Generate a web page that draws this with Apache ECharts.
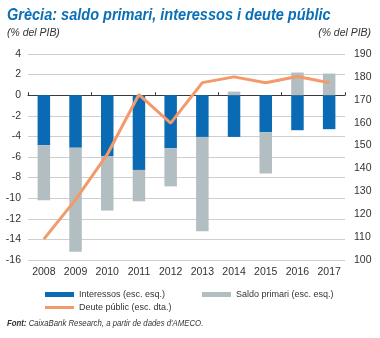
<!DOCTYPE html>
<html>
<head>
<meta charset="utf-8">
<script src="https://cdn.jsdelivr.net/npm/echarts@6/dist/echarts.min.js"></script>
<style>
  html, body { margin: 0; padding: 0; background: #fff; }
  #chart { width: 380px; height: 338px; }
</style>
</head>
<body>
<div id="chart"></div>
<script>
// Years on the category axis
const years = ['2008', '2009', '2010', '2011', '2012', '2013', '2014', '2015', '2016', '2017'];
// Interest payments, % of GDP (drawn downwards from zero)
const interessos = [-4.85, -5.1, -5.9, -7.25, -5.15, -4.05, -4.05, -3.6, -3.4, -3.3];
// Primary balance, % of GDP (stacked on the interest bars)
const saldoPrimari = [-5.35, -10.1, -5.3, -3.05, -3.7, -9.15, 0.35, -4.0, 2.2, 2.1];
// Public debt, % of GDP (right-hand scale)
const deutePublic = [109.1, 126.4, 146.1, 172.3, 159.8, 177.5, 180.0, 177.4, 180.2, 177.4];

const FONT = '"Liberation Sans", Arial, sans-serif';
const TXT = '#333333';

const chart = echarts.init(document.getElementById('chart'), null, { renderer: 'canvas' });

chart.setOption({
  animation: false,
  backgroundColor: '#ffffff',
  textStyle: { fontFamily: FONT, color: TXT },
  graphic: [
    {
      // headline, slightly condensed horizontally
      type: 'text', x: 7, y: 15, scaleX: 0.88,
      style: {
        text: 'Grècia: saldo primari, interessos i deute públic',
        font: 'italic bold 16.5px ' + FONT, fill: '#0a6fb7',
        textAlign: 'left', textVerticalAlign: 'middle'
      }
    },
    {
      type: 'text', x: 7, y: 33, scaleX: 0.95,
      style: { text: '(% del PIB)', font: 'italic 11px ' + FONT, fill: TXT, textAlign: 'left', textVerticalAlign: 'middle' }
    },
    {
      type: 'text', x: 371, y: 33, scaleX: 0.95,
      style: { text: '(% del PIB)', font: 'italic 11px ' + FONT, fill: TXT, textAlign: 'right', textVerticalAlign: 'middle' }
    },
    {
      type: 'text', x: 7, y: 323, scaleX: 0.82,
      style: {
        text: "{b|Font:} CaixaBank Research, a partir de dades d'AMECO.",
        font: 'italic 9.5px ' + FONT, fill: TXT, textAlign: 'left', textVerticalAlign: 'middle',
        rich: { b: { font: 'italic bold 9.5px ' + FONT, fill: TXT } }
      }
    }
  ],
  legend: [
    {
      data: ['Interessos (esc. esq.)'],
      left: 40, top: 285, itemWidth: 29, itemHeight: 5, itemGap: 6, icon: 'rect',
      textStyle: { fontFamily: FONT, fontSize: 9, color: TXT }
    },
    {
      data: ['Saldo primari (esc. esq.)'],
      left: 197, top: 285, itemWidth: 29, itemHeight: 5, itemGap: 6, icon: 'rect',
      textStyle: { fontFamily: FONT, fontSize: 9, color: TXT }
    },
    {
      data: [{ name: 'Deute públic (esc. dta.)', icon: 'rect' }],
      left: 40, top: 298, itemWidth: 29, itemHeight: 3, itemGap: 6,
      textStyle: { fontFamily: FONT, fontSize: 9, color: TXT }
    }
  ],
  grid: { left: 28, right: 35, top: 54, bottom: 78, containLabel: false },
  xAxis: [
    {
      type: 'category',
      data: years,
      position: 'bottom',
      axisLine: { show: false, onZero: false },
      axisTick: { show: false },
      axisLabel: { color: TXT, fontSize: 10.5, margin: 7, fontFamily: FONT }
    },
    {
      // zero line with upward ticks between the years
      type: 'category',
      data: years,
      position: 'bottom',
      axisLine: { show: true, onZero: true, onZeroAxisIndex: 0, lineStyle: { color: '#3a3a3a', width: 1 } },
      axisTick: { show: true, inside: true, length: 3, lineStyle: { color: '#3a3a3a' } },
      axisLabel: { show: false },
      splitLine: { show: false }
    }
  ],
  yAxis: [
    {
      type: 'value',
      min: -16, max: 4, interval: 2,
      axisLine: { show: false },
      axisTick: { show: false },
      axisLabel: { color: TXT, fontSize: 10.5, margin: 7, fontFamily: FONT },
      splitLine: { show: true, lineStyle: { color: '#cfcfcf', width: 1 } }
    },
    {
      type: 'value',
      position: 'right',
      min: 100, max: 190, interval: 10,
      axisLine: { show: false },
      axisTick: { show: false },
      axisLabel: { color: TXT, fontSize: 10.5, margin: 9, fontFamily: FONT },
      splitLine: { show: false }
    }
  ],
  series: [
    {
      name: 'Interessos (esc. esq.)',
      type: 'bar',
      stack: 'saldo',
      xAxisIndex: 0, yAxisIndex: 0,
      data: interessos,
      barWidth: 12.5,
      itemStyle: { color: '#0a6bb4' },
      z: 2
    },
    {
      name: 'Saldo primari (esc. esq.)',
      type: 'bar',
      stack: 'saldo',
      xAxisIndex: 0, yAxisIndex: 0,
      data: saldoPrimari,
      barWidth: 12.5,
      itemStyle: { color: '#b3bec3' },
      z: 2
    },
    {
      name: 'Deute públic (esc. dta.)',
      type: 'line',
      xAxisIndex: 0, yAxisIndex: 1,
      data: deutePublic,
      showSymbol: false,
      symbol: 'none',
      lineStyle: { color: '#f39a6b', width: 3 },
      itemStyle: { color: '#f39a6b' },
      z: 5
    }
  ]
});
</script>
</body>
</html>
